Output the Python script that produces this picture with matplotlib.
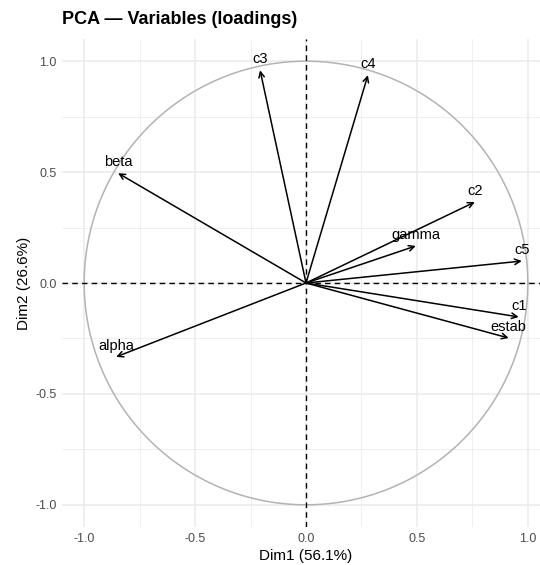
import matplotlib
matplotlib.use("Agg")
import matplotlib.pyplot as plt
import numpy as np

variables = ["c3", "c4", "beta", "c2", "gamma", "c5", "c1", "estab", "alpha"]
dim1 = [-0.207, 0.279, -0.847, 0.761, 0.495, 0.973, 0.959, 0.914, -0.856]
dim2 = [0.959, 0.937, 0.495, 0.365, 0.167, 0.099, -0.153, -0.248, -0.333]
ticks = [-1.0, -0.5, 0.0, 0.5, 1.0]
tick_labels = ["-1.0", "-0.5", "0.0", "0.5", "1.0"]
xlabel = "Dim1 (56.1%)"
ylabel = "Dim2 (26.6%)"
title = "PCA — Variables (loadings)"

plt.rcParams['font.family'] = ['Liberation Sans', 'DejaVu Sans']

fig = plt.figure(figsize=(5.4, 5.65), dpi=100)
ax = fig.add_axes([62/540, 38/565, 488/540, 488/565])
ax.set_xlim(-1.1, 1.1)
ax.set_ylim(-1.1, 1.1)

ax.set_xticks(ticks)
ax.set_xticklabels(tick_labels)
ax.set_yticks(ticks)
ax.set_yticklabels(tick_labels)
ax.set_xticks([-0.75, -0.25, 0.25, 0.75], minor=True)
ax.set_yticks([-0.75, -0.25, 0.25, 0.75], minor=True)
ax.grid(True, which='major', color='#ebebeb', lw=1.1)
ax.grid(True, which='minor', color='#ebebeb', lw=0.55)
ax.set_axisbelow(True)
for s in ax.spines.values():
    s.set_visible(False)
ax.tick_params(which='both', length=0, labelsize=9, labelcolor='#4d4d4d', pad=4)

t = np.linspace(0, 2*np.pi, 400)
ax.plot(np.cos(t), np.sin(t), color='#b3b3b3', lw=1.1, zorder=2)
ax.axhline(0, color='black', ls=(0, (4, 3)), lw=1.0, zorder=3)
ax.axvline(0, color='black', ls=(0, (4, 3)), lw=1.0, zorder=3)

for name, x, y in zip(variables, dim1, dim2):
    ax.annotate("", xy=(x, y), xytext=(0, 0),
                arrowprops=dict(arrowstyle='->', color='black', lw=1.1,
                                shrinkA=0, shrinkB=0, mutation_scale=10), zorder=4)
    ax.text(x, y + 0.05, name, ha='center', va='center', fontsize=10.5, color='black', zorder=5)

ax.set_xlabel(xlabel, fontsize=11, labelpad=3)
ax.set_ylabel(ylabel, fontsize=11, labelpad=3)
fig.text(62/540, 1 - 20/565, title, ha='left', va='center', fontsize=13, fontweight='bold')

fig.savefig("out.png", dpi=100)
